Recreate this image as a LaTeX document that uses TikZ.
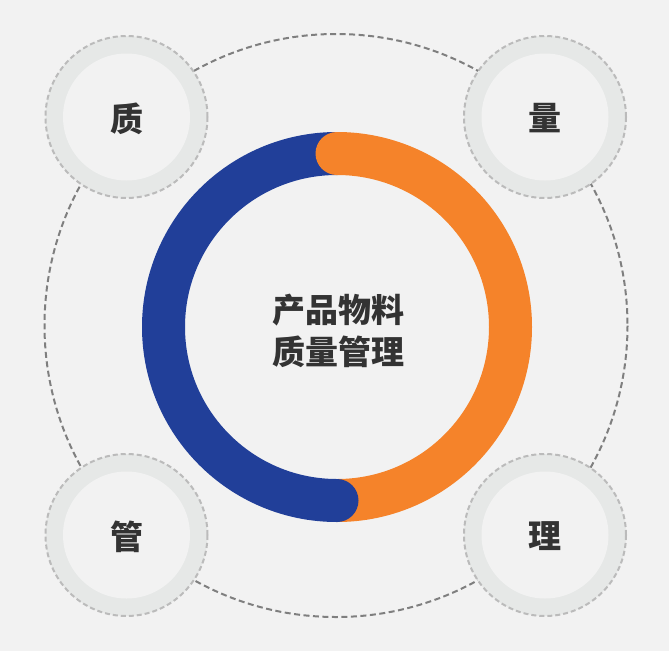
\documentclass[tikz,border=0pt]{standalone}
\usepackage{fontspec}
\newfontfamily\cjk{Noto Sans CJK SC}
\definecolor{bgc}{HTML}{F2F2F2}
\definecolor{ringblue}{HTML}{213F99}
\definecolor{ringorange}{HTML}{F5832A}
\definecolor{halo}{HTML}{E6E8E7}
\definecolor{haloline}{HTML}{BBBBBB}
\definecolor{bigline}{HTML}{7F7F7F}
\definecolor{txt}{HTML}{333333}
\tikzset{
  bigdash/.style={draw=bigline, line width=2pt, dash pattern=on 6pt off 3.5pt},
  halocircle/.style={circle, fill=halo, draw=haloline, line width=2pt, dash pattern=on 5pt off 3pt, minimum size=162pt, inner sep=0pt},
  innercircle/.style={circle, fill=bgc, minimum size=127pt, inner sep=0pt},
  cornerlabel/.style={font=\cjk\bfseries\fontsize{33}{33}\selectfont, text=txt, inner sep=0pt},
  centerlabel/.style={font=\cjk\bfseries\fontsize{33}{42}\selectfont, text=txt, align=center, inner sep=0pt}
}
\begin{document}
\begin{tikzpicture}[x=1pt,y=-1pt]
\fill[bgc] (0,0) rectangle (669,651);
\useasboundingbox (0,0) rectangle (669,651);
% big dashed circle
\draw[bigdash] (336,325.5) circle[radius=291.5];
% ring
\begin{scope}[shift={(337,327)}, y=1pt]
\draw[ringorange, line width=43pt] (0,173.5) arc[start angle=90, end angle=-90, radius=173.5];
\draw[ringblue, line width=43pt] (0,-173.5) arc[start angle=270, end angle=90, radius=173.5];
\fill[ringorange] (0,173.5) circle[radius=21.5];
\fill[ringblue] (0,-173.5) circle[radius=21.5];
\end{scope}
% center text
\node[centerlabel] (title) at (338,331) {产品物料\\质量管理};
% corner circles
\node[halocircle] (h1) at (126.5,117) {};
\node[innercircle] at (h1) {};
\node[cornerlabel] (t1) at ([yshift=-1.5pt]h1) {质};
\node[halocircle] (h2) at (545,117) {};
\node[innercircle] at (h2) {};
\node[cornerlabel] (t2) at ([yshift=-1.5pt]h2) {量};
\node[halocircle] (h3) at (126.5,535) {};
\node[innercircle] at (h3) {};
\node[cornerlabel] (t3) at ([yshift=-1.5pt]h3) {管};
\node[halocircle] (h4) at (545,535) {};
\node[innercircle] at (h4) {};
\node[cornerlabel] (t4) at ([yshift=-1.5pt]h4) {理};
\end{tikzpicture}
\end{document}
